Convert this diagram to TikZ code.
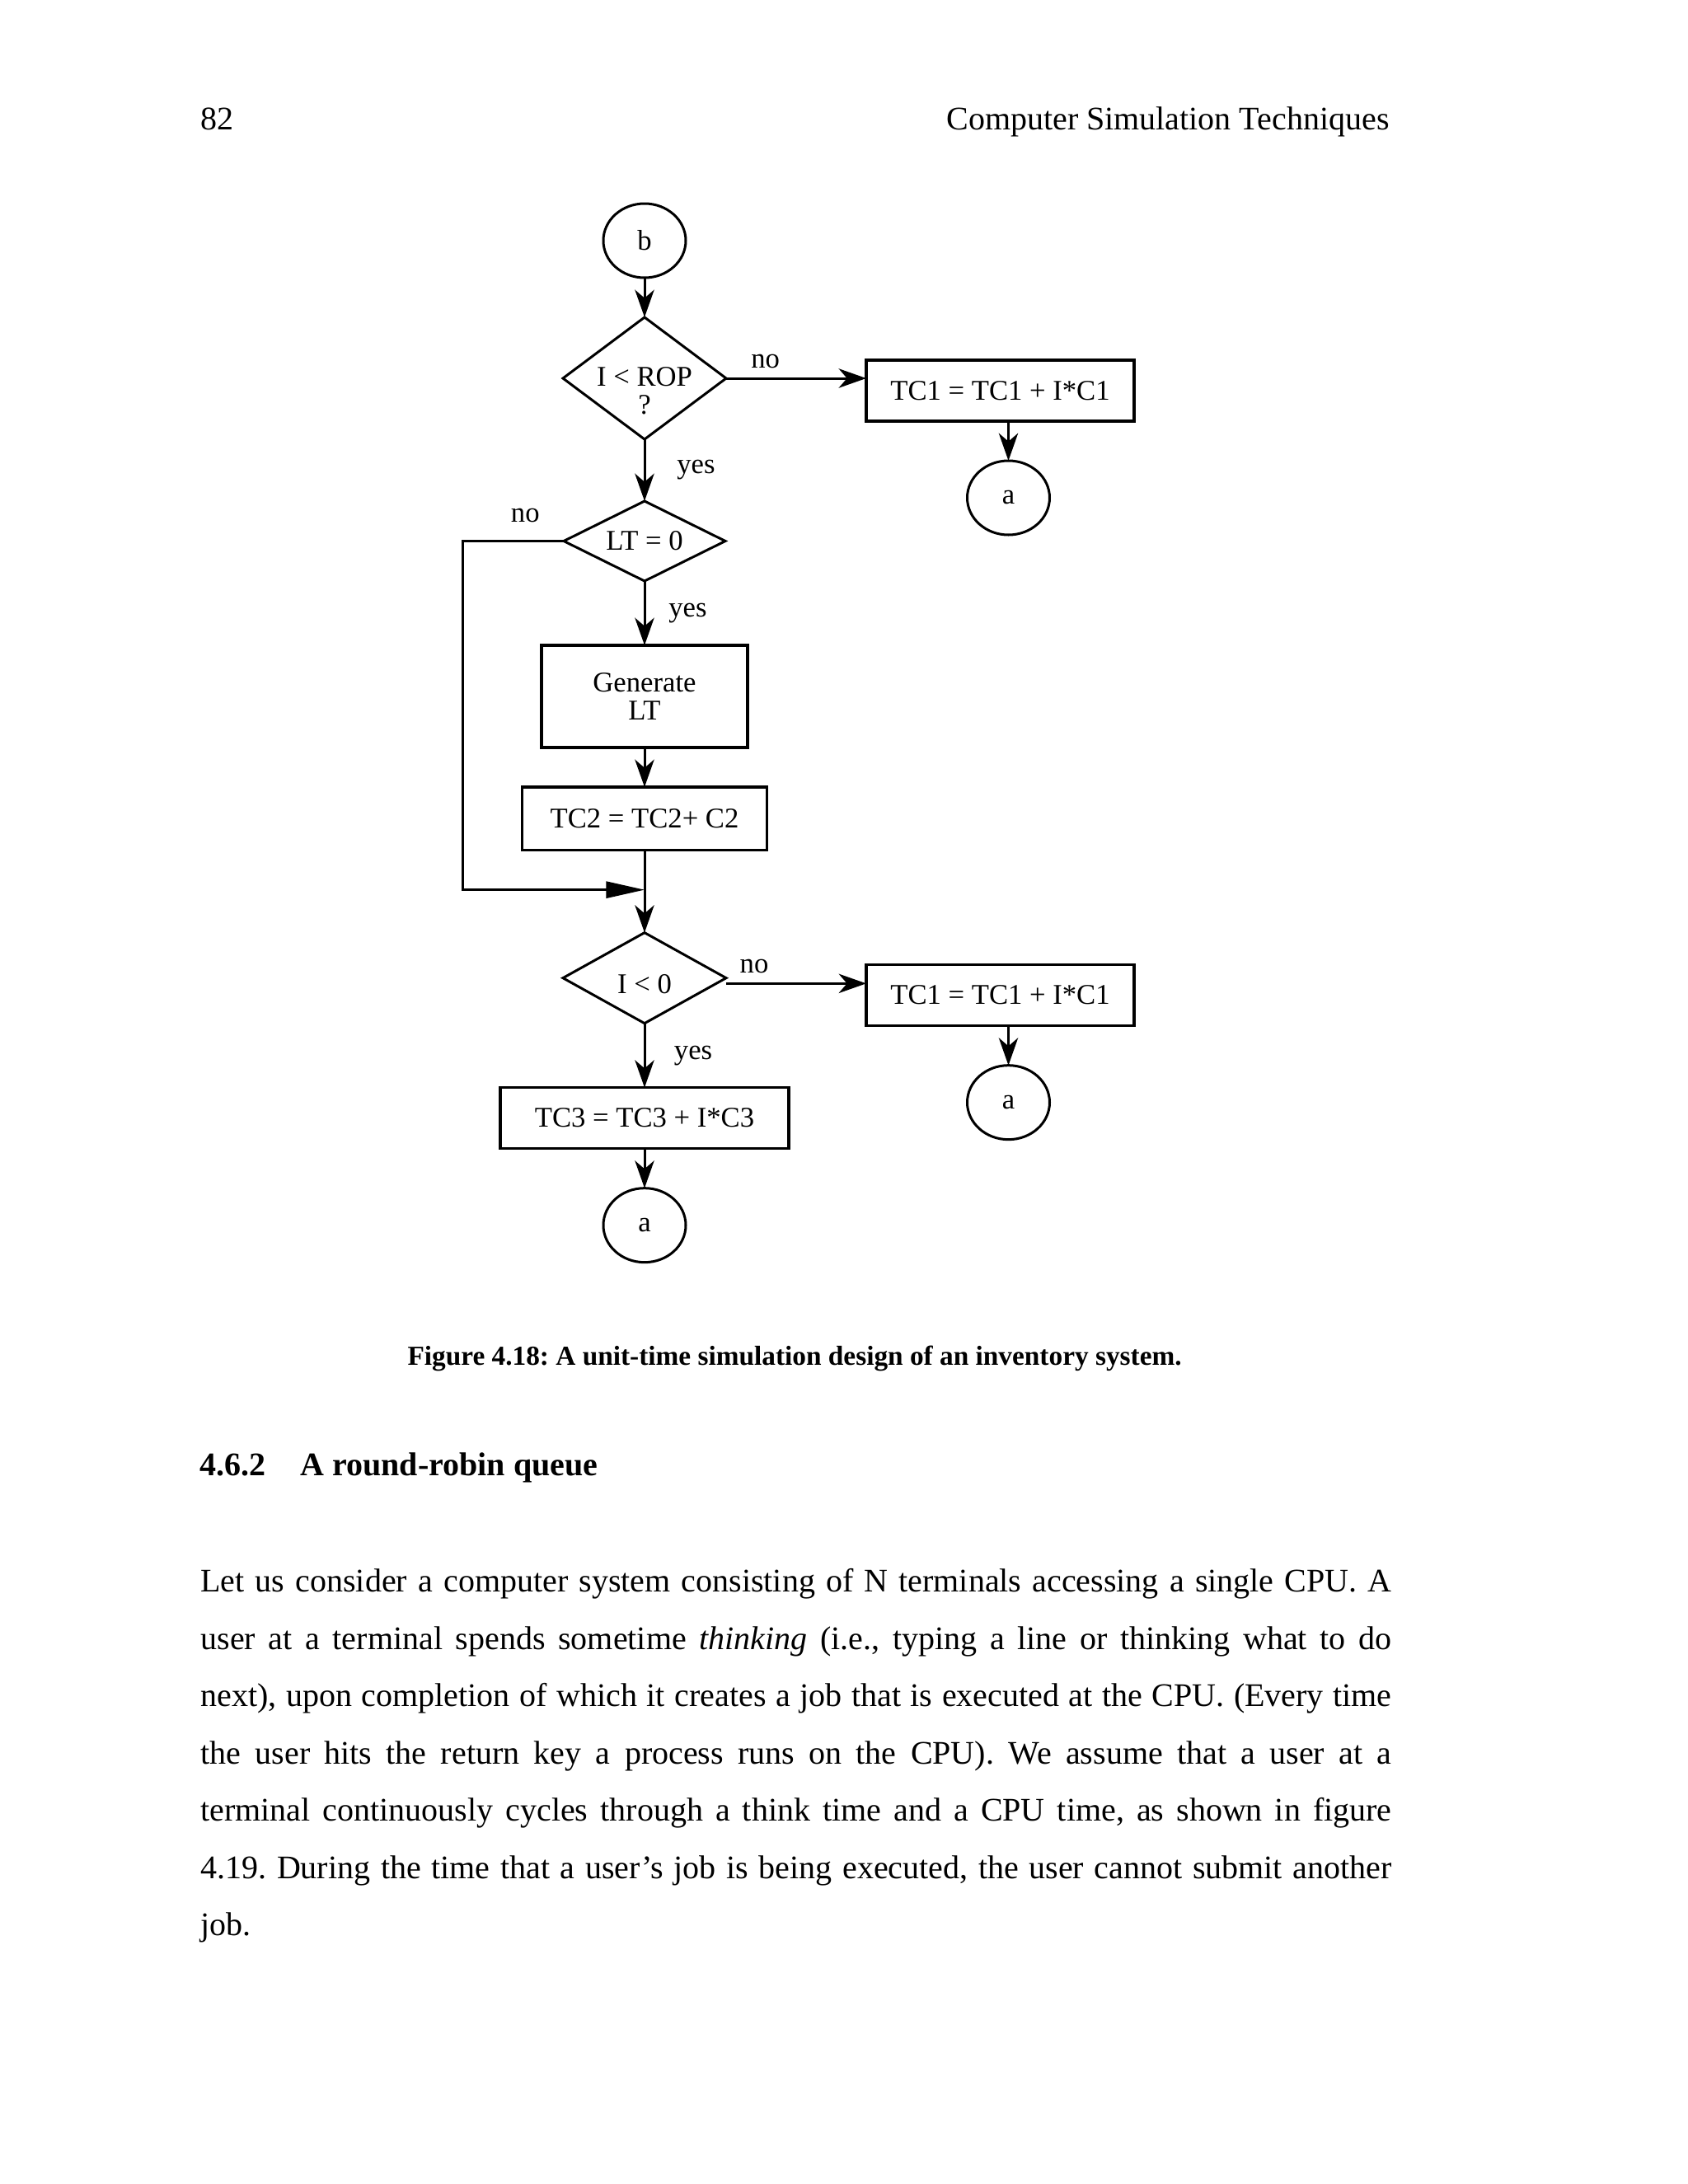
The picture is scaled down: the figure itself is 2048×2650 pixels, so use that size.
\documentclass[tikz,border=0pt]{standalone}
\usepackage{fontspec}
\setmainfont{Liberation Serif}
\usepackage{tikz}
\usetikzlibrary{shapes.geometric,positioning,arrows.meta}
\newcommand{\chartfont}{\fontsize{10.4}{10.2}\selectfont}

\begin{document}
\frenchspacing
\begin{tikzpicture}[->,>={Stealth[length=10pt,width=7pt,inset=3pt]},auto,
        x=0.3pt,y=-0.3pt,node distance=14.4pt,line width=0.9pt,
        every node/.style={font=\chartfont},
        conn node/.style={ellipse,draw,minimum width=30pt,minimum height=27pt,inner sep=0pt,outer sep=0pt},
        dec node/.style={diamond,draw,align=center,inner sep=0pt,outer sep=0pt},
        main node/.style={rectangle,draw,line width=1pt,align=center,minimum height=22.2pt,inner sep=0pt,outer sep=0pt},
        page text/.style={inner sep=0pt,font=\fontsize{12}{20.85}\selectfont}]

    \fill[white,-] (0,0) rectangle (2048,2650);

    % page head
    \node[page text,anchor=base west] (pg) at (242,157) {82};
    \node[page text,anchor=base east] (hd) at (1687,157) {Computer Simulation Techniques};

    % the chart
    \node[conn node] (1) at (782,292) {b};
    \node[dec node,aspect=1.34,minimum width=59.4pt,minimum height=44.4pt,
        label={[align=center,yshift=-4.5pt]center:I < ROP\\?}] (2) [below=of 1] {};
    \node[main node,minimum width=97.5pt] (3) [right=51pt of 2,yshift=-4.5pt] {TC1 = TC1 + I*C1};
    \node[conn node] (4) [below=of 3,xshift=3pt] {a};
    \node[dec node,aspect=2,minimum width=58.8pt,minimum height=29.1pt] (5) [below=22.5pt of 2] {LT = 0};
    \node[main node,minimum width=75pt,minimum height=37.2pt] (6) [below=23.4pt of 5] {Generate\\LT};
    \node[main node,minimum width=89pt,minimum height=23pt] (7) [below=of 6] {TC2 = TC2+ C2};
    \coordinate[below=of 7] (m);
    \node[dec node,aspect=1.8,minimum width=59.4pt,minimum height=33pt,
        text height=11pt,text depth=0pt] (8) [below=30pt of 7] {I < 0};
    \node[main node,minimum width=97.5pt] (9) [right=51pt of 8,yshift=-6.3pt] {TC1 = TC1 + I*C1};
    \node[conn node] (10) [below=of 9,xshift=3pt] {a};
    \node[main node,minimum width=105pt] (11) [below=23.4pt of 8] {TC3 = TC3 + I*C3};
    \node[conn node] (12) [below=of 11] {a};

    \path
    (1) edge (2)
    (2.east) edge node[pos=0.28] {no} (2.east -| 3.west)
    (2) edge node[xshift=8pt] {yes} (5)
    (3.south -| 4) edge (4)
    (5) edge node[xshift=5pt] {yes} (6)
    (6) edge (7)
    (7) edge (8)
    ([yshift=-2pt]8.east) edge node[pos=0.2] {no} ([yshift=-2pt]8.east -| 9.west)
    (8) edge node[xshift=7pt] {yes} (11)
    (9.south -| 10) edge (10)
    (11) edge (12);

    \draw[-{Triangle[length=14pt,width=6pt]}] (5.west) -- node[swap,pos=0.38,yshift=3pt] {no} ++(-36.9pt,0) |- (m);

    % caption and text below
    \node[page text,anchor=base west,font=\fontsize{10}{12}\selectfont\bfseries] (cap) at (493,1656)
        {Figure 4.18: A unit-time simulation design of an inventory system.};
    \node[page text,anchor=base west,font=\fontsize{12}{14}\selectfont\bfseries] (sec) at (241,1790)
        {4.6.2\hspace{12.6pt}A round-robin queue};
    \node[page text,anchor=north west,text width=433.5pt,align=justify] (par) at (242,1902)
        {Let us consider a computer system consisting of N terminals accessing a single CPU. A\linebreak
        user at a terminal spends sometime \textit{thinking} (i.e., typing a line or thinking what to do\linebreak
        next), upon completion of which it creates a job that is executed at the CPU. (Every time\linebreak
        the user hits the return key a process runs on the CPU). We assume that a user at a\linebreak
        terminal continuously cycles through a think time and a CPU time, as shown in figure\linebreak
        4.19. During the time that a user’s job is being executed, the user cannot submit another\linebreak
        job.};

\end{tikzpicture}
\end{document}
